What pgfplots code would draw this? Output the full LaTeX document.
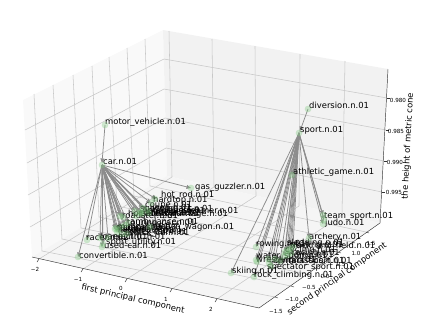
\documentclass[border=0pt]{standalone}
\usepackage{pgfplots}
\pgfplotsset{compat=1.18}
\usepackage{fontspec}
\setmainfont{DejaVu Sans}
\usetikzlibrary{arrows.meta}
\definecolor{paneL}{HTML}{F9F9F9}
\definecolor{paneR}{HTML}{F2F2F2}
\definecolor{paneF}{HTML}{F5F5F5}
\definecolor{gridc}{HTML}{C8C8C8}
\definecolor{edgec}{HTML}{8C8C8C}
\definecolor{markc}{HTML}{7FC97F}
\newcommand\G[4]{\addplot[gridc,line width=0.55pt] coordinates {(#1,#2)(#3,#4)};}
\newcommand\K[4]{\addplot[black!80,line width=0.45pt] coordinates {(#1,#2)(#3,#4)};}
\newcommand\E[4]{\addplot[edgec,line width=0.75pt,-{Triangle[length=4.5pt,width=3.8pt]}] coordinates {(#1,#2)(#3,#4)};}
\newcommand\T[3]{\node[anchor=west,inner sep=0pt,font=\fontsize{8.4}{10}\selectfont] at (axis cs:#1,#2) {#3};}
\newcommand\Tk[3]{\node[inner sep=0pt,font=\fontsize{5.6}{7}\selectfont] at (axis cs:#1,#2) {#3};}
\begin{document}
\begin{tikzpicture}
\begin{axis}[hide axis,clip=false,scale only axis,
  width=436pt,height=327pt,xmin=0,xmax=436,ymin=0,ymax=327,y dir=reverse]
\path (axis cs:0,0) rectangle (axis cs:436,327);
% panes
\addplot[fill=paneL,draw=none] coordinates {(23,100)(163,30)(167,176)(32,257)} --cycle;
\addplot[fill=paneR,draw=none] coordinates {(163,30)(388,69)(380,223)(167,176)} --cycle;
\addplot[fill=paneF,draw=none] coordinates {(32,257)(167,176)(380,223)(259,308)} --cycle;
% grid: left wall verticals
\G{34}{94}{42}{251}\G{53}{85}{62}{239}\G{73}{75}{81}{228}\G{92}{66}{99}{217}\G{109}{57}{117}{206}\G{127}{48}{134}{196}\G{145}{39}{150}{186}
% grid: left wall horizontals
\G{25}{130}{164}{59}\G{27}{163}{164}{89}\G{28}{195}{165}{118}\G{30}{227}{166}{148}
% grid: right wall verticals
\G{169}{31}{172}{177}\G{212}{39}{214}{187}\G{255}{46}{256}{196}\G{300}{54}{299}{206}\G{345}{61}{342}{215}
% grid: right wall horizontals
\G{164}{59}{387}{98}\G{164}{89}{386}{130}\G{165}{118}{384}{161}\G{166}{148}{382}{192}
% grid: floor
\G{39}{259}{172}{177}\G{83}{269}{214}{187}\G{127}{279}{256}{196}\G{172}{289}{299}{206}\G{217}{299}{342}{215}
\G{42}{251}{275}{297}\G{62}{239}{291}{286}\G{81}{228}{307}{274}\G{99}{217}{323}{263}\G{117}{206}{338}{252}\G{134}{196}{352}{242}\G{150}{186}{366}{232}
% axis lines
\K{32}{257}{259}{308}\K{259}{308}{380}{223}\K{380}{223}{388}{69}
% ticks
\K{39}{259}{37}{262}\K{83}{269}{81}{272}\K{127}{279}{125}{282}\K{172}{289}{170}{292}\K{217}{299}{215}{302}
\K{275}{297}{278}{298}\K{291}{286}{294}{287}\K{307}{274}{310}{275}\K{323}{263}{326}{264}\K{338}{252}{341}{253}\K{352}{242}{355}{243}\K{366}{232}{369}{233}
\K{387}{98}{390}{98}\K{386}{130}{389}{130}\K{384}{161}{387}{161}\K{382}{192}{385}{192}
% edges
\E{105}{125}{102}{163}
\E{308}{109}{300}{131}
\E{102}{165}{191}{188}\E{102}{165}{156}{199}\E{102}{165}{151}{203}\E{102}{165}{143}{208}
\E{102}{165}{141}{212}\E{102}{165}{135}{211}\E{102}{165}{140}{213}\E{102}{165}{147}{210}\E{102}{165}{149}{213}\E{102}{165}{136}{216}\E{102}{165}{142}{214}\E{102}{165}{123}{217}\E{102}{165}{120}{216}
\E{102}{165}{128}{223}\E{102}{165}{125}{225}\E{102}{165}{116}{228}\E{102}{165}{118}{230}\E{102}{165}{117}{232}\E{102}{165}{115}{229}\E{102}{165}{121}{227}\E{102}{165}{150}{227}
\E{102}{165}{122}{234}\E{102}{165}{127}{234}\E{102}{165}{100}{238}\E{102}{165}{108}{238}\E{102}{165}{87}{240}\E{102}{165}{103}{244}\E{102}{165}{102}{247}\E{102}{165}{78}{257}
\E{299}{133}{292}{175}\E{299}{133}{323}{215}\E{299}{133}{323}{224}\E{299}{133}{324}{220}\E{299}{133}{309}{238}
\E{299}{133}{256}{247}\E{299}{133}{256}{260}\E{299}{133}{257}{262}\E{299}{133}{231}{273}\E{299}{133}{254}{277}\E{299}{133}{269}{263}\E{299}{133}{271}{266}
\E{299}{133}{285}{252}\E{299}{133}{287}{250}\E{299}{133}{288}{255}\E{299}{133}{290}{249}\E{299}{133}{284}{256}\E{299}{133}{291}{253}\E{299}{133}{293}{247}\E{299}{133}{280}{261}\E{299}{133}{275}{259}\E{299}{133}{268}{259}
% markers
\addplot[only marks,mark=*,mark size=3.2pt,mark options={fill=markc,draw=markc,fill opacity=0.35,draw opacity=0.15}] table {
105 125
102 165
191 188
155 199
151 203
143 208
141 212
135 211
140 213
147 210
149 213
136 216
142 214
123 217
120 216
128 223
125 225
116 228
118 230
117 232
115 229
121 227
150 227
122 234
127 234
100 238
108 238
87 240
103 244
102 247
78 257
308 109
299 133
292 175
323 215
323 224
324 220
309 238
256 247
256 260
257 262
231 273
254 277
269 263
271 266
285 252
287 250
288 255
290 249
284 256
291 253
293 247
280 261
275 259
268 259
};
% labels
\T{105}{122}{motor\_vehicle.n.01}
\T{103}{161}{car.n.01}
\T{195}{187}{gas\_guzzler.n.01}
\T{161}{195}{hot\_rod.n.01}
\T{153}{200}{hardtop.n.01}
\T{145}{205}{coupe.n.01}
\T{148}{211}{stanley\_steamer.n.01}
\T{128}{214}{horseless\_carriage.n.01}
\T{140}{209}{subcompact.n.01}
\T{143}{210}{limousine.n.01}
\T{145}{212}{minivan.n.01}
\T{152}{208}{jeep.n.01}
\T{155}{212}{cab.n.03}
\T{140}{214}{pace\_car.n.01}
\T{122}{215}{roadster.n.01}
\T{130}{221}{ambulance.n.01}
\T{127}{223}{touring\_car.n.01}
\T{155}{227}{beach\_wagon.n.01}
\T{118}{228}{compact.n.03}
\T{117}{226}{minicar.n.01}
\T{117}{229}{hatchback.n.01}
\T{118}{231}{model\_t.n.01}
\T{116}{227}{sedan.n.01}
\T{129}{233}{stock\_car.n.01}
\T{123}{232}{sports\_car.n.01}
\T{100}{236}{loaner.n.01}
\T{113}{236}{electric.n.01}
\T{86}{237}{racer.n.02}
\T{106}{242}{sport\_utility.n.01}
\T{104}{245}{used-car.n.01}
\T{79}{255}{convertible.n.01}
\T{309}{105}{diversion.n.01}
\T{300}{130}{sport.n.01}
\T{293}{172}{athletic\_game.n.01}
\T{324}{216}{team\_sport.n.01}
\T{325}{223}{judo.n.01}
\T{309}{237}{archery.n.01}
\T{256}{244}{rowing.n.01}
\T{290}{246}{track\_and\_field.n.01}
\T{287}{243}{sledding.n.01}
\T{291}{245}{skating.n.01}
\T{285}{250}{cycling.n.01}
\T{292}{253}{racing.n.01}
\T{288}{255}{riding.n.01}
\T{256}{256}{water\_sport.n.01}
\T{256}{260}{wrestling.n.01}
\T{275}{261}{gymnastics.n.01}
\T{273}{261}{contact\_sport.n.01}
\T{267}{267}{spectator\_sport.n.01}
\T{232}{271}{skiing.n.01}
\T{254}{275}{rock\_climbing.n.01}
% ticks labels
\Tk{35}{269}{−2}\Tk{78}{279}{−1}\Tk{121}{288}{0}\Tk{166}{299}{1}\Tk{211}{309}{2}
\Tk{276}{311}{−1.5}\Tk{292}{299}{−1.0}\Tk{309}{287}{−0.5}\Tk{325}{276}{0.0}\Tk{341}{264}{0.5}\Tk{356}{253}{1.0}\Tk{371}{243}{1.5}
\Tk{398}{100}{0.980}\Tk{396}{131}{0.985}\Tk{395}{162}{0.990}\Tk{394}{192}{0.995}
% axis labels
\node[rotate=-13,font=\fontsize{8.4}{10}\selectfont] at (axis cs:133,299) {first principal component};
\node[rotate=35,font=\fontsize{8.4}{10}\selectfont] at (axis cs:337,279) {second principal component};
\node[rotate=87,font=\fontsize{8.4}{10}\selectfont] at (axis cs:408,146) {the height of metric cone};
\end{axis}
\end{tikzpicture}
\end{document}
